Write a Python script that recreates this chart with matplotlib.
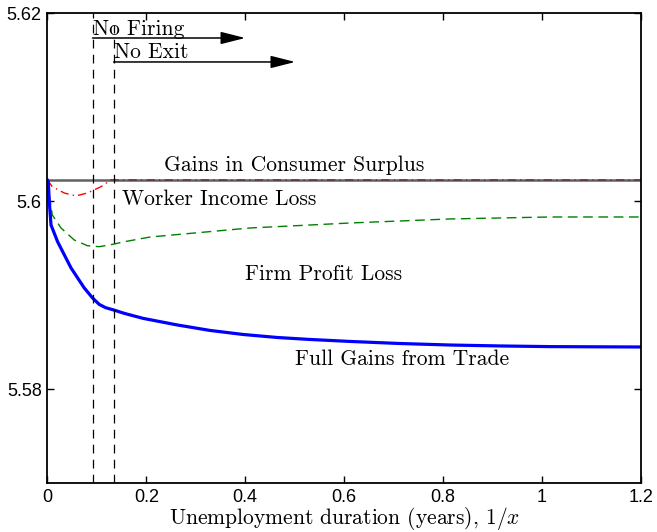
import numpy as np
import matplotlib
matplotlib.use("Agg")
import matplotlib.pyplot as plt

# data
x_full = [0, 0.002, 0.004, 0.0075, 0.0208, 0.0479, 0.0747, 0.0915, 0.105, 0.118, 0.134,
          0.156, 0.194, 0.263, 0.329, 0.396, 0.465, 0.531, 0.612, 0.713, 0.814,
          0.915, 1.016, 1.2]
y_full = [5.60229, 5.60211, 5.59998, 5.59750, 5.59572, 5.59293, 5.59080, 5.58973,
          5.58905, 5.58870, 5.58846, 5.58809, 5.58756, 5.58686, 5.58628, 5.58585,
          5.58553, 5.58532, 5.58511, 5.58489, 5.58473, 5.58463, 5.58456, 5.58452]

x_firm = [0, 0.004, 0.0101, 0.0277, 0.0545, 0.0808, 0.105, 0.133, 0.156, 0.208,
          0.41, 0.612, 0.814, 1.016, 1.2]
y_firm = [5.60229, 5.60069, 5.59856, 5.59718, 5.59590, 5.59530, 5.59519, 5.59545,
          5.59572, 5.59622, 5.59718, 5.59771, 5.59814, 5.59835, 5.59835]

x_worker = [0, 0.0101, 0.0343, 0.058, 0.0808, 0.1085, 0.1287, 1.2]
y_worker = [5.60229, 5.60157, 5.60090, 5.60059, 5.60090, 5.60157, 5.60229, 5.60229]

consumer_level = 5.60229
no_firing = 0.0915
no_exit = 0.134

plt.rcParams['font.family'] = 'cmr10'
plt.rcParams['mathtext.fontset'] = 'cm'
plt.rcParams['axes.unicode_minus'] = False

fig = plt.figure(figsize=(6.57, 5.32), dpi=100)
ax = fig.add_axes([0.072, 0.0912, 0.9037, 0.8835])

ax.plot(x_worker, y_worker, color='red', lw=1.0, ls=(0, (6, 3, 1, 3)))
ax.axhline(consumer_level, color='#3a3a3a', lw=1.8, alpha=0.8)
ax.plot(x_firm, y_firm, color='green', lw=1.0, ls=(0, (7, 4)))
ax.plot(x_full, y_full, color='blue', lw=2.3)

ax.plot([no_firing, no_firing], [5.57, 5.62], color='black', lw=0.9, ls=(0, (7, 5)))
ax.plot([no_exit, no_exit], [5.57, 5.6188], color='black', lw=0.9, ls=(0, (7, 5)))

arrow = dict(arrowstyle='-|>,head_length=1.5,head_width=0.38', color='black',
             lw=1.1, shrinkA=0, shrinkB=0)
ax.annotate('', xy=(0.4, 5.61739), xytext=(no_firing, 5.61739), arrowprops=arrow)
ax.annotate('', xy=(0.501, 5.61484), xytext=(no_exit, 5.61484), arrowprops=arrow)

fs = 15.5
ax.text(0.0925, 5.61771, 'No Firing', fontsize=fs, va='baseline', ha='left')
ax.text(0.135, 5.61523, 'No Exit', fontsize=fs, va='baseline', ha='left')
ax.text(0.499, 5.60328, 'Gains in Consumer Surplus', fontsize=fs, va='baseline', ha='center')
ax.text(0.1516, 5.59963, 'Worker Income Loss', fontsize=fs, va='baseline', ha='left')
ax.text(0.4, 5.59165, 'Firm Profit Loss', fontsize=fs, va='baseline', ha='left')
ax.text(0.5, 5.58261, 'Full Gains from Trade', fontsize=fs, va='baseline', ha='left')

ax.set_xlim(0, 1.2)
ax.set_ylim(5.57, 5.62)
ax.set_xticks([0, 0.2, 0.4, 0.6, 0.8, 1.0, 1.2])
ax.set_xticklabels(['0', '0.2', '0.4', '0.6', '0.8', '1', '1.2'])
ax.set_yticks([5.58, 5.6, 5.62])
ax.set_yticklabels(['5.58', '5.6', '5.62'])
for lab in ax.get_xticklabels() + ax.get_yticklabels():
    lab.set_fontfamily('Liberation Sans')
    lab.set_fontsize(13)
ax.tick_params(direction='in', length=5, width=1, top=True, right=True, pad=4)
for s in ax.spines.values():
    s.set_linewidth(1.3)

ax.set_xlabel(r'Unemployment duration (years), $1/x$', fontsize=fs, labelpad=-1)

fig.savefig('out.png', dpi=100)
